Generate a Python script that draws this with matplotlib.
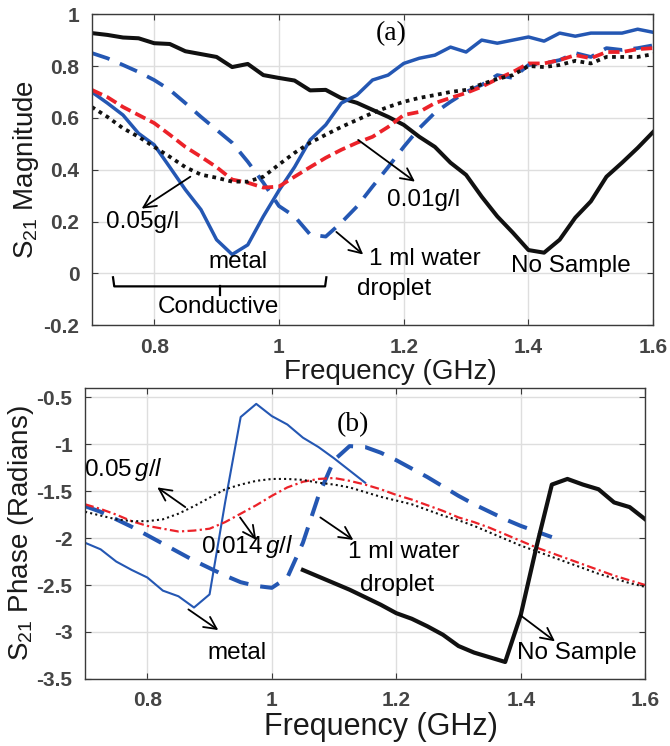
import matplotlib
matplotlib.use("Agg")
import matplotlib.pyplot as plt
import numpy as np

plt.rcParams['font.family'] = ['Liberation Sans', 'DejaVu Sans']
plt.rcParams['mathtext.fontset'] = 'custom'
plt.rcParams['mathtext.rm'] = 'Liberation Sans'
plt.rcParams['mathtext.it'] = 'Liberation Sans:italic'

###########################################################################
# data

# frequency grid (GHz) of the measurements
freq = [0.7, 0.725, 0.75, 0.775, 0.8, 0.825, 0.85, 0.875, 0.9, 0.925,
        0.95, 0.975, 1.0, 1.025, 1.05, 1.075, 1.1, 1.125, 1.15, 1.175,
        1.2, 1.225, 1.25, 1.275, 1.3, 1.325, 1.35, 1.375, 1.4, 1.425,
        1.45, 1.475, 1.5, 1.525, 1.55, 1.575, 1.6]

# (a) S21 magnitude
mag_nosample = [0.927, 0.92, 0.91, 0.907, 0.888, 0.885, 0.857, 0.846, 0.835, 0.796,
                0.808, 0.765, 0.754, 0.744, 0.706, 0.708, 0.676, 0.658, 0.631, 0.604,
                0.573, 0.527, 0.488, 0.427, 0.38, 0.296, 0.22, 0.157, 0.09, 0.08,
                0.13, 0.215, 0.278, 0.373, 0.427, 0.484, 0.546]
mag_metal = [0.70, 0.657, 0.611, 0.54, 0.496, 0.41, 0.323, 0.246, 0.13, 0.073,
             0.11, 0.22, 0.32, 0.41, 0.515, 0.573, 0.657, 0.688, 0.746, 0.765,
             0.81, 0.83, 0.842, 0.873, 0.854, 0.9, 0.888, 0.9, 0.912, 0.896,
             0.927, 0.915, 0.927, 0.927, 0.927, 0.942, 0.93]
mag_water = [0.85, 0.83, 0.804, 0.777, 0.746, 0.708, 0.657, 0.604, 0.554, 0.504,
             0.431, 0.35, 0.26, 0.22, 0.15, 0.142, 0.196, 0.258, 0.335, 0.41,
             0.488, 0.56, 0.62, 0.662, 0.70, 0.727, 0.765, 0.754, 0.804, 0.81,
             0.823, 0.85, 0.835, 0.869, 0.862, 0.869, 0.88]
mag_001 = [0.708, 0.68, 0.642, 0.611, 0.58, 0.535, 0.488, 0.45, 0.41, 0.362,
           0.35, 0.331, 0.335, 0.373, 0.41, 0.446, 0.477, 0.504, 0.527, 0.565,
           0.611, 0.623, 0.657, 0.677, 0.696, 0.72, 0.75, 0.777, 0.81, 0.81,
           0.823, 0.842, 0.83, 0.854, 0.854, 0.865, 0.869]
mag_005 = [0.642, 0.604, 0.56, 0.527, 0.488, 0.45, 0.41, 0.381, 0.369, 0.354,
           0.354, 0.373, 0.42, 0.465, 0.504, 0.535, 0.565, 0.592, 0.619, 0.642,
           0.662, 0.677, 0.688, 0.70, 0.708, 0.73, 0.75, 0.765, 0.80, 0.796,
           0.804, 0.82, 0.81, 0.835, 0.835, 0.835, 0.846]

# (b) S21 phase, some traces only cover part of the band
freq_metal_ph = freq[:19]       # 0.7 .. 1.15
ph_metal = [-2.05, -2.12, -2.25, -2.34, -2.42, -2.56, -2.62, -2.74, -2.6, -1.62,
            -0.71, -0.57, -0.70, -0.79, -0.93, -1.03, -1.15, -1.28, -1.41]
freq_water_ph = freq[:31]       # 0.7 .. 1.45
ph_water = [-1.66, -1.72, -1.80, -1.88, -1.97, -2.06, -2.15, -2.24, -2.32, -2.40,
            -2.47, -2.51, -2.53, -2.42, -2.05, -1.55, -1.17, -1.02, -1.03, -1.09,
            -1.17, -1.26, -1.35, -1.45, -1.55, -1.64, -1.72, -1.80, -1.87, -1.93,
            -1.99]
ph_0014 = [-1.64, -1.69, -1.75, -1.82, -1.87, -1.90, -1.93, -1.92, -1.90, -1.83,
           -1.74, -1.65, -1.55, -1.46, -1.40, -1.37, -1.36, -1.39, -1.43, -1.48,
           -1.54, -1.59, -1.65, -1.71, -1.78, -1.83, -1.89, -1.96, -2.03, -2.10,
           -2.16, -2.22, -2.28, -2.34, -2.40, -2.45, -2.50]
ph_005 = [-1.72, -1.76, -1.80, -1.82, -1.82, -1.80, -1.74, -1.66, -1.57, -1.48,
          -1.43, -1.39, -1.37, -1.37, -1.38, -1.41, -1.43, -1.46, -1.51, -1.56,
          -1.60, -1.64, -1.70, -1.76, -1.81, -1.87, -1.94, -2.01, -2.08, -2.14,
          -2.20, -2.26, -2.32, -2.38, -2.43, -2.48, -2.52]
freq_nosample_ph = freq[14:]    # 1.05 .. 1.6
ph_nosample = [-2.34, -2.41, -2.48, -2.55, -2.63, -2.71, -2.80, -2.86, -2.94, -3.03,
               -3.15, -3.22, -3.27, -3.32, -2.82, -2.10, -1.43, -1.37, -1.43, -1.48,
               -1.62, -1.67, -1.80]

###########################################################################

blue = '#2457b3'
red = '#ec2229'
black = '#111111'
ann_size = 17.5
tick_size = 15
lab_size = 20

fig = plt.figure(figsize=(6.7, 7.46), dpi=100)
ax = fig.add_axes([0.137, 0.564, 0.838, 0.417])
ax2 = fig.add_axes([0.127, 0.090, 0.836, 0.390])


def style_axes(a, xlab_size, xlab_x, xlab_y):
    a.grid(True, color='#dedede', lw=1.0)
    a.set_axisbelow(True)
    for sp in a.spines.values():
        sp.set_color('#3a3a3a')
        sp.set_linewidth(1.0)
    a.tick_params(direction='in', length=4, width=0.8, top=True, right=True,
                  labelsize=tick_size, labelcolor='#454545', color='#3a3a3a', pad=9)
    for lab in a.get_xticklabels() + a.get_yticklabels():
        lab.set_fontweight('bold')
    a.set_xlabel('Frequency (GHz)', fontsize=xlab_size, color='#1a1a1a', labelpad=0)
    a.xaxis.set_label_coords(xlab_x, xlab_y)
    a.xaxis.label.set_va('top')


def arrow(a, tail, head):
    a.annotate('', xy=head, xytext=tail,
               arrowprops=dict(arrowstyle='->', color='black', lw=1.3,
                               mutation_scale=22, shrinkA=0, shrinkB=0))


# ---- (a) magnitude
ax.plot(freq, mag_nosample, color=black, lw=2.9)
ax.plot(freq, mag_metal, color=blue, lw=2.5)
ax.plot(freq, mag_water, color=blue, lw=2.7, dashes=(5, 3))
ax.plot(freq, mag_001, color=red, lw=2.7, dashes=(3, 1.4))
ax.plot(freq, mag_005, color=black, lw=2.7, dashes=(1, 1.2))

ax.set_xlim(0.7, 1.6)
ax.set_ylim(-0.2, 1.0)
ax.set_xticks([0.8, 1.0, 1.2, 1.4, 1.6])
ax.set_xticklabels(['0.8', '1', '1.2', '1.4', '1.6'])
ax.set_yticks([-0.2, 0, 0.2, 0.4, 0.6, 0.8, 1.0])
ax.set_yticklabels(['-0.2', '0', '0.2', '0.4', '0.6', '0.8', '1'])
style_axes(ax, 20, 0.531, -0.11)
ax.set_ylabel('S$_{21}$ Magnitude', fontsize=lab_size, color='#1a1a1a', labelpad=2)

ax.text(1.18, 0.925, '(a)', family='Liberation Serif', fontsize=20, ha='center', va='center')
ax.text(0.782, 0.2, '0.05g/l', fontsize=ann_size, ha='center', va='center')
arrow(ax, (0.858, 0.373), (0.78, 0.25))
ax.text(0.935, 0.045, 'metal', fontsize=ann_size, ha='center', va='center')
ax.text(1.232, 0.285, '0.01g/l', fontsize=ann_size, ha='center', va='center')
arrow(ax, (1.127, 0.515), (1.218, 0.354))
ax.text(1.145, 0.055, '1 ml water', fontsize=ann_size, ha='left', va='center')
ax.text(1.125, -0.06, 'droplet', fontsize=ann_size, ha='left', va='center')
arrow(ax, (1.092, 0.16), (1.135, 0.073))
ax.text(1.468, 0.027, 'No Sample', fontsize=ann_size, ha='center', va='center')

# "Conductive" brace
ax.plot([0.734, 0.736, 1.074, 1.076], [-0.015, -0.05, -0.05, -0.015], color='black', lw=1.6)
ax.plot([0.906, 0.906], [-0.05, -0.085], color='black', lw=1.6)
ax.text(0.903, -0.13, 'Conductive', fontsize=ann_size, ha='center', va='center')

# ---- (b) phase
ax2.plot(freq_metal_ph, ph_metal, color=blue, lw=1.5)
ax2.plot(freq_water_ph, ph_water, color=blue, lw=2.9, dashes=(5, 3))
ax2.plot(freq, ph_0014, color=red, lw=1.6, dashes=(4, 1.5, 1, 1.5))
ax2.plot(freq, ph_005, color=black, lw=1.5, dashes=(1, 1.5))
ax2.plot(freq_nosample_ph, ph_nosample, color=black, lw=3.0)

ax2.set_xlim(0.7, 1.6)
ax2.set_ylim(-3.5, -0.4)
ax2.set_xticks([0.8, 1.0, 1.2, 1.4, 1.6])
ax2.set_xticklabels(['0.8', '1', '1.2', '1.4', '1.6'])
ax2.set_yticks([-3.5, -3, -2.5, -2, -1.5, -1, -0.5])
ax2.set_yticklabels(['-3.5', '-3', '-2.5', '-2', '-1.5', '-1', '-0.5'])
style_axes(ax2, 22, 0.529, -0.115)
ax2.set_ylabel('S$_{21}$ Phase (Radians)', fontsize=lab_size, color='#1a1a1a', labelpad=0)

ax2.text(1.131, -0.79, '(b)', family='Liberation Serif', fontsize=20, ha='center', va='center')
ax2.text(0.761, -1.27, '0.05$\\,\\mathit{g/l}$', fontsize=ann_size, ha='center', va='center')
arrow(ax2, (0.861, -1.67), (0.816, -1.46))
ax2.text(0.96, -2.09, '0.014$\\,\\mathit{g/l}$', fontsize=ann_size, ha='center', va='center')
arrow(ax2, (0.949, -1.78), (0.975, -2.02))
ax2.text(0.944, -3.22, 'metal', fontsize=ann_size, ha='center', va='center')
arrow(ax2, (0.866, -2.76), (0.914, -2.98))
ax2.text(1.123, -2.15, '1 ml water', fontsize=ann_size, ha='left', va='center')
ax2.text(1.142, -2.50, 'droplet', fontsize=ann_size, ha='left', va='center')
arrow(ax2, (1.078, -1.78), (1.131, -2.02))
ax2.text(1.491, -3.22, 'No Sample', fontsize=ann_size, ha='center', va='center')
arrow(ax2, (1.399, -2.82), (1.455, -3.1))

fig.savefig('out.png', dpi=100)
